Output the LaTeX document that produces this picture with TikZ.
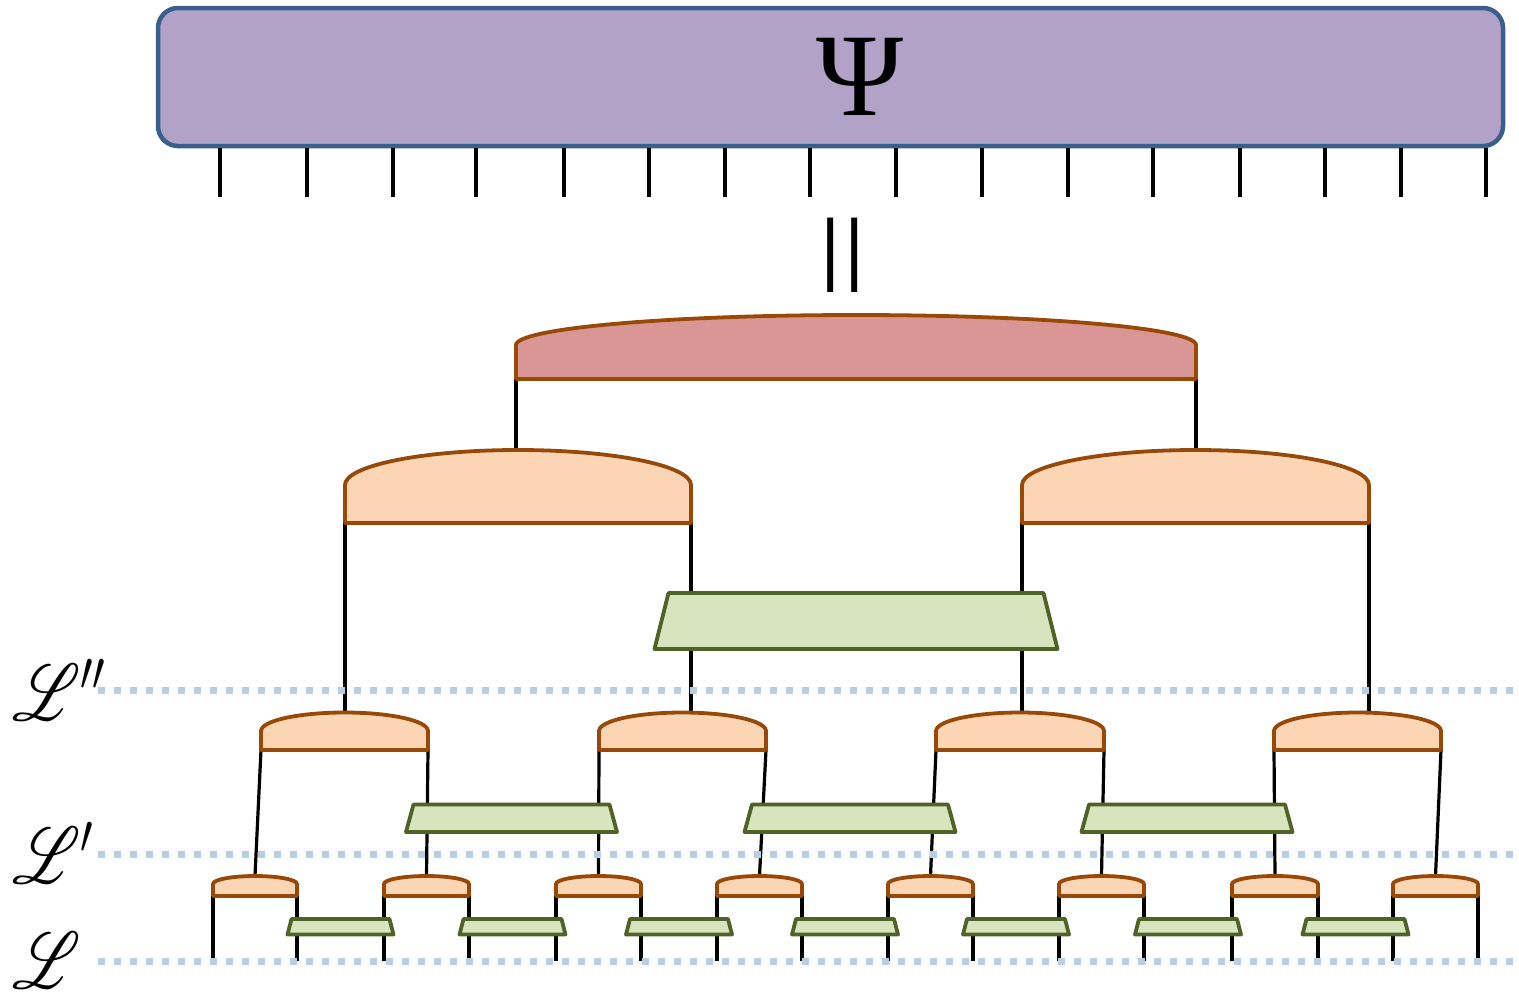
\RequirePackage{fix-cm}
\documentclass[tikz,border=0pt]{standalone}
\usepackage{fontspec}
\usepackage{mathrsfs}
% let the script alphabet scale freely
\DeclareFontFamily{U}{rsfs}{\skewchar\font127 }
\DeclareFontShape{U}{rsfs}{m}{n}{<-6> rsfs5 <6-8> rsfs7 <8-> rsfs10}{}
\newfontfamily\serifglyphs{Liberation Serif}

\definecolor{psifill}{HTML}{B3A2C7}
\definecolor{psiedge}{HTML}{3B5F8D}
\definecolor{topfill}{HTML}{D99694}
\definecolor{isofill}{HTML}{FCD5B5}
\definecolor{isoedge}{HTML}{984807}
\definecolor{disfill}{HTML}{D7E4BD}
\definecolor{disedge}{HTML}{4F6228}
\definecolor{layerdot}{HTML}{B9CDE5}

\pgfdeclarelayer{wires}
\pgfsetlayers{wires,main}

\tikzset{
  psibox/.style={draw=psiedge, fill=psifill, line width=4.5pt, rounded corners=20pt,
                 inner sep=0pt, minimum width=1345pt, minimum height=138pt},
  leg/.style={draw=black, line width=3.2pt},
  topdome/.style={draw=isoedge, fill=topfill, line width=3.8pt, line join=round},
  isodome/.style={draw=isoedge, fill=isofill, line width=3.8pt, line join=round},
  disbox/.style={draw=disedge, fill=disfill, line width=3.8pt, line join=round},
  layerline/.style={draw=layerdot, line width=7pt, dash pattern=on 7pt off 9pt},
  layerlabel/.style={anchor=base west, inner sep=0pt, xscale=0.8, font=\fontsize{80}{90}\selectfont},
}

% isometry: flat base, short straight sides, half-ellipse crown
% #1 name, #2 left x, #3 right x, #4 base y, #5 shoulder y, #6 crown y, #7 style
\newcommand\isometry[7]{%
  \pgfmathsetmacro\dhw{(#3-#2)/2}%
  \pgfmathsetmacro\dhh{#5-#6}%
  \draw[#7] (#2,#4) -- (#2,#5)
    arc[start angle=180, end angle=0, x radius=\dhw pt, y radius=\dhh pt]
    -- (#3,#4) -- cycle;
  \coordinate (#1-l) at (#2,#4);
  \coordinate (#1-r) at (#3,#4);
  \coordinate (#1-t) at ({(#2+#3)/2},#6);
}

% disentangler: trapezium, wider at the bottom
% #1 name, #2 centre x, #3 top y, #4 bottom y, #5 top half width, #6 bottom half width
\newcommand\disentangler[6]{%
  \draw[disbox] ({#2-#5},#3) -- ({#2+#5},#3) -- ({#2+#6},#4) -- ({#2-#6},#4) -- cycle;
  \coordinate (#1) at (#2,{(#3+#4)/2});
}

\begin{document}
\begin{tikzpicture}[x=1pt, y=-1pt]
\useasboundingbox (0,0) rectangle (1519,994);

% the state and its physical legs
\node[psibox] (psi) at (830.5,77) {};
\node[inner sep=0pt, font=\fontsize{118}{118}\selectfont\serifglyphs] (psilabel) at (860,76.5) {Ψ};
\foreach \x [count=\i] in {220,307,393,476,564,649,725,810,896,982,1068,1153,1240,1325,1401,1486} {
  \coordinate (e\i) at (\x,197);
  \draw[leg] (psi.south -| e\i) -- (e\i);
}

% equality sign, set upright
\node[rotate=90, yscale=0.75, inner sep=0pt, font=\fontsize{160}{160}\selectfont\serifglyphs] (eq) at (854.7,255) {=};

% top tensor
\isometry{u}{516}{1196}{379}{345}{315}{topdome}

% second layer isometries
\isometry{a1}{345}{691}{523}{485}{450}{isodome}
\isometry{a2}{1022}{1369}{523}{485}{450}{isodome}
\disentangler{d0}{856}{593}{649}{187.5}{201.5}

% third layer isometries and disentanglers
\isometry{b1}{261}{428}{750}{731}{712.5}{isodome}
\isometry{b2}{599}{766}{750}{731}{712.5}{isodome}
\isometry{b3}{936}{1104}{750}{731}{712.5}{isodome}
\isometry{b4}{1274}{1441}{750}{731}{712.5}{isodome}
\foreach \c [count=\i] in {511.5,850,1187} {
  \disentangler{d1-\i}{\c}{804.5}{832}{98}{105.5}
}

% bottom layer isometries and disentanglers
\foreach \l/\r [count=\i] in {213/297,384/469,556/641,717/802,888/973,1059/1144,1232/1318,1393/1478} {
  \isometry{c\i}{\l}{\r}{896}{884}{876}{isodome}
}
\foreach \c [count=\i] in {340.5,512.5,679,845,1016,1188,1355.5} {
  \disentangler{d2-\i}{\c}{919}{934.5}{49}{53}
}

% layer boundaries
\coordinate (Lpp-w) at (97.5,690.5); \coordinate (Lpp-e) at (1519,690.5);
\coordinate (Lp-w)  at (97.5,854);   \coordinate (Lp-e)  at (1519,854);
\coordinate (L-w)   at (97.5,961);   \coordinate (L-e)   at (1519,961);

% wires behind the tensors
\begin{pgfonlayer}{wires}
  \draw[leg] (u-l) -- (u-l |- a1-t);
  \draw[leg] (u-r) -- (u-r |- a2-t);
  \draw[leg] (a1-l) -- (a1-l |- b1-t);
  \draw[leg] (a1-r) -- (a1-r |- b2-t);
  \draw[leg] (a2-l) -- (a2-l |- b3-t);
  \draw[leg] (a2-r) -- (a2-r |- b4-t);
  \foreach \i [evaluate=\i as \j using int(2*\i-1), evaluate=\i as \k using int(2*\i)] in {1,2,3,4} {
    \draw[leg] (b\i-l) -- (c\j-t);
    \draw[leg] (b\i-r) -- (c\k-t);
  }
  \foreach \i in {1,...,8} {
    \draw[leg] (c\i-l) -- (c\i-l |- L-w);
    \draw[leg] (c\i-r) -- (c\i-r |- L-w);
  }
\end{pgfonlayer}

\draw[layerline] (Lpp-w) -- (Lpp-e);
\draw[layerline] (Lp-w) -- (Lp-e);
\draw[layerline] (L-w) -- (L-e);

\node[layerlabel] (lab2) at (12,720) {$\mathscr{L}''$};
\node[layerlabel] (lab1) at (12,883) {$\mathscr{L}'$};
\node[layerlabel] (lab0) at (12,988) {$\mathscr{L}$};
\end{tikzpicture}
\end{document}
